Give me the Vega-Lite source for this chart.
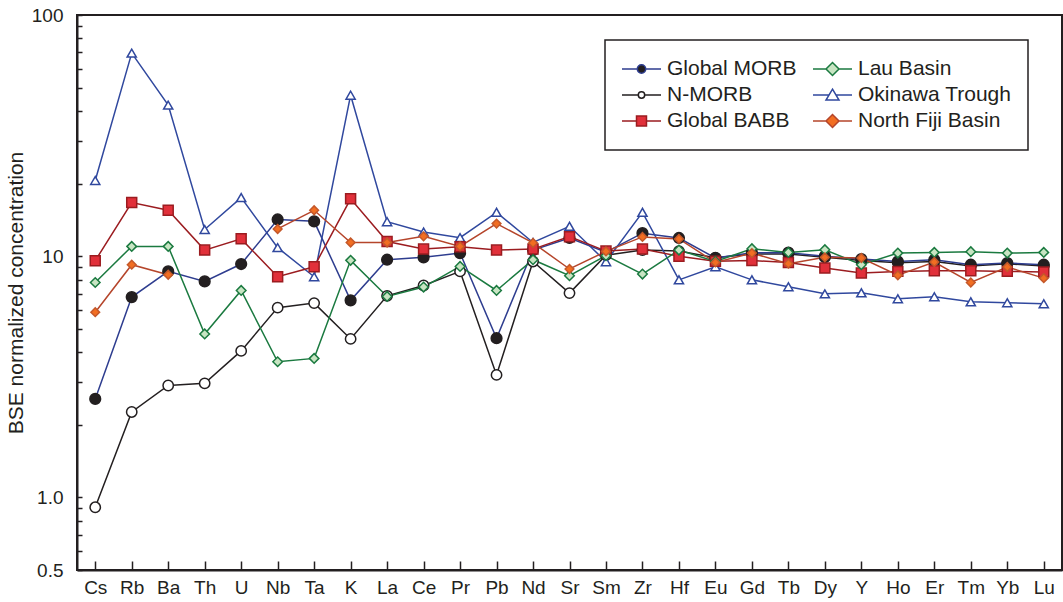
{
  "$schema": "https://vega.github.io/schema/vega-lite/v6.json",
  "width": 985,
  "height": 555,
  "autosize": {"type": "none"},
  "padding": {"left": 77, "top": 15, "right": 1, "bottom": 32},
  "background": "white",
  "data": {
    "values": [
      {"el": "Cs", "N-MORB": 0.91, "Global MORB": 2.56, "Okinawa Trough": 20.6, "Global BABB": 9.58, "Lau Basin": 7.78, "North Fiji Basin": 5.86},
      {"el": "Rb", "N-MORB": 2.26, "Global MORB": 6.77, "Okinawa Trough": 69.5, "Global BABB": 16.7, "Lau Basin": 10.98, "North Fiji Basin": 9.22},
      {"el": "Ba", "N-MORB": 2.91, "Global MORB": 8.65, "Okinawa Trough": 42.3, "Global BABB": 15.5, "Lau Basin": 10.98, "North Fiji Basin": 8.38},
      {"el": "Th", "N-MORB": 2.97, "Global MORB": 7.86, "Okinawa Trough": 12.9, "Global BABB": 10.6, "Lau Basin": 4.76, "North Fiji Basin": null},
      {"el": "U", "N-MORB": 4.05, "Global MORB": 9.28, "Okinawa Trough": 17.5, "Global BABB": 11.8, "Lau Basin": 7.21, "North Fiji Basin": null},
      {"el": "Nb", "N-MORB": 6.12, "Global MORB": 14.2, "Okinawa Trough": 10.85, "Global BABB": 8.22, "Lau Basin": 3.65, "North Fiji Basin": 12.97},
      {"el": "Ta", "N-MORB": 6.39, "Global MORB": 13.95, "Okinawa Trough": 8.22, "Global BABB": 9.04, "Lau Basin": 3.77, "North Fiji Basin": 15.5},
      {"el": "K", "N-MORB": 4.54, "Global MORB": 6.56, "Okinawa Trough": 46.5, "Global BABB": 17.3, "Lau Basin": 9.61, "North Fiji Basin": 11.4},
      {"el": "La", "N-MORB": 6.85, "Global MORB": 9.67, "Okinawa Trough": 13.9, "Global BABB": 11.5, "Lau Basin": 6.81, "North Fiji Basin": 11.4},
      {"el": "Ce", "N-MORB": 7.56, "Global MORB": 9.89, "Okinawa Trough": 12.6, "Global BABB": 10.7, "Lau Basin": 7.45, "North Fiji Basin": 12.09},
      {"el": "Pr", "N-MORB": 8.65, "Global MORB": 10.3, "Okinawa Trough": 11.94, "Global BABB": 10.95, "Lau Basin": 9.07, "North Fiji Basin": 10.98},
      {"el": "Pb", "N-MORB": 3.22, "Global MORB": 4.57, "Okinawa Trough": 15.2, "Global BABB": 10.6, "Lau Basin": 7.21, "North Fiji Basin": 13.65},
      {"el": "Nd", "N-MORB": 9.51, "Global MORB": 10.6, "Okinawa Trough": 11.4, "Global BABB": 10.7, "Lau Basin": 9.67, "North Fiji Basin": 11.35},
      {"el": "Sr", "N-MORB": 7.03, "Global MORB": 11.9, "Okinawa Trough": 13.3, "Global BABB": 12.05, "Lau Basin": 8.3, "North Fiji Basin": 8.85},
      {"el": "Sm", "N-MORB": 10.1, "Global MORB": 10.4, "Okinawa Trough": 9.49, "Global BABB": 10.5, "Lau Basin": 10.05, "North Fiji Basin": 10.47},
      {"el": "Zr", "N-MORB": 10.6, "Global MORB": 12.46, "Okinawa Trough": 15.2, "Global BABB": 10.7, "Lau Basin": 8.43, "North Fiji Basin": 12.02},
      {"el": "Hf", "N-MORB": 10.5, "Global MORB": 11.9, "Okinawa Trough": 7.98, "Global BABB": 10.0, "Lau Basin": 10.6, "North Fiji Basin": 11.79},
      {"el": "Eu", "N-MORB": 9.85, "Global MORB": 9.83, "Okinawa Trough": 9.04, "Global BABB": 9.53, "Lau Basin": 9.51, "North Fiji Basin": 9.42},
      {"el": "Gd", "N-MORB": 10.2, "Global MORB": 10.34, "Okinawa Trough": 7.98, "Global BABB": 9.6, "Lau Basin": 10.74, "North Fiji Basin": 10.3},
      {"el": "Tb", "N-MORB": 10.2, "Global MORB": 10.34, "Okinawa Trough": 7.47, "Global BABB": 9.42, "Lau Basin": 10.37, "North Fiji Basin": 9.31},
      {"el": "Dy", "N-MORB": 9.9, "Global MORB": 10.0, "Okinawa Trough": 6.98, "Global BABB": 8.93, "Lau Basin": 10.64, "North Fiji Basin": 9.89},
      {"el": "Y", "N-MORB": 9.6, "Global MORB": 9.73, "Okinawa Trough": 7.05, "Global BABB": 8.51, "Lau Basin": 9.22, "North Fiji Basin": 9.83},
      {"el": "Ho", "N-MORB": 9.4, "Global MORB": 9.51, "Okinawa Trough": 6.66, "Global BABB": 8.65, "Lau Basin": 10.3, "North Fiji Basin": 8.34},
      {"el": "Er", "N-MORB": 9.5, "Global MORB": 9.67, "Okinawa Trough": 6.79, "Global BABB": 8.7, "Lau Basin": 10.37, "North Fiji Basin": 9.46},
      {"el": "Tm", "N-MORB": 9.1, "Global MORB": 9.22, "Okinawa Trough": 6.47, "Global BABB": 8.7, "Lau Basin": 10.44, "North Fiji Basin": 7.78},
      {"el": "Yb", "N-MORB": 9.3, "Global MORB": 9.37, "Okinawa Trough": 6.41, "Global BABB": 8.65, "Lau Basin": 10.3, "North Fiji Basin": 9.02},
      {"el": "Lu", "N-MORB": 9.1, "Global MORB": 9.22, "Okinawa Trough": 6.35, "Global BABB": 8.6, "Lau Basin": 10.37, "North Fiji Basin": 8.11}
    ]
  },
  "transform": [
    {"fold": ["N-MORB", "Global MORB", "Okinawa Trough", "Global BABB", "Lau Basin", "North Fiji Basin"], "as": ["series", "value"]}
  ],
  "encoding": {
    "x": {
      "field": "el",
      "type": "nominal",
      "scale": {"type": "point", "padding": 0.5, "domain": ["Cs","Rb","Ba","Th","U","Nb","Ta","K","La","Ce","Pr","Pb","Nd","Sr","Sm","Zr","Hf","Eu","Gd","Tb","Dy","Y","Ho","Er","Tm","Yb","Lu"]},
      "axis": {"title": null, "labelAngle": 0, "tickSize": -9, "labelPadding": 17.5, "labelFontSize": 19, "labelColor": "#231f20", "domainColor": "#231f20", "domainWidth": 2, "tickColor": "#231f20", "tickWidth": 1.5, "grid": false}
    },
    "y": {
      "field": "value",
      "type": "quantitative",
      "scale": {"type": "log", "domain": [0.5, 100], "nice": false},
      "axis": {
        "title": "BSE normalized concentration",
        "values": [0.5,0.6,0.7,0.8,0.9,1,2,3,4,5,6,7,8,9,10,20,30,40,50,60,70,80,90,100],
        "labelExpr": "datum.value == 0.5 ? '0.5' : datum.value == 1 ? '1.0' : datum.value == 10 ? '10' : datum.value == 100 ? '100' : ''",
        "tickSize": -5, "labelPadding": 19, "labelFontSize": 19, "labelColor": "#231f20",
        "labelOverlap": false, "labelFlush": false, "labelBound": false,
        "titleFontSize": 21, "titleFontWeight": "normal", "titleColor": "#231f20", "titlePadding": 5,
        "domainColor": "#231f20", "domainWidth": 2, "tickColor": "#231f20", "tickWidth": 1.5, "grid": false
      }
    }
  },
  "layer": [
    {
      "mark": {"type": "line", "strokeWidth": 1.5, "invalid": "break-paths-show-domains"},
      "encoding": {
        "stroke": {"field": "series", "type": "nominal", "legend": null,
          "scale": {"domain": ["Global MORB","N-MORB","Global BABB","Lau Basin","Okinawa Trough","North Fiji Basin"],
                    "range": ["#2e3d8f","#231f20","#9b1c20","#1b7a40","#30489e","#b5452b"]}}
      }
    },
    {
      "mark": {"type": "point", "filled": true, "strokeWidth": 1.5, "opacity": 1},
      "encoding": {
        "shape": {"field": "series", "type": "nominal", "legend": null,
          "scale": {"domain": ["Global MORB","N-MORB","Global BABB","Lau Basin","Okinawa Trough","North Fiji Basin"],
                    "range": ["circle","circle","square","diamond","triangle-up","diamond"]}},
        "fill": {"field": "series", "type": "nominal", "legend": null,
          "scale": {"domain": ["Global MORB","N-MORB","Global BABB","Lau Basin","Okinawa Trough","North Fiji Basin"],
                    "range": ["#231f20","#ffffff","#e1303a","#c8e5c3","#ffffff","#f26e22"]}},
        "stroke": {"field": "series", "type": "nominal", "legend": null,
          "scale": {"domain": ["Global MORB","N-MORB","Global BABB","Lau Basin","Okinawa Trough","North Fiji Basin"],
                    "range": ["#231f20","#231f20","#9b1c20","#1b7a40","#30489e","#c4582a"]}},
        "size": {"field": "series", "type": "nominal", "legend": null,
          "scale": {"domain": ["Global MORB","N-MORB","Global BABB","Lau Basin","Okinawa Trough","North Fiji Basin"],
                    "range": [115,76,150,175,170,175]}}
      }
    },
    {
      "mark": {"type": "point", "filled": true, "opacity": 0, "size": 1521, "strokeWidth": 1.5},
      "encoding": {
        "shape": {"field": "series", "type": "nominal",
          "scale": {"domain": ["Global MORB","N-MORB","Global BABB","Lau Basin","Okinawa Trough","North Fiji Basin"],
                    "range": [
                      "M-1,0H-0.215M0.215,0H1M-0.215,0A0.215,0.215,0,1,1,0.215,0A0.215,0.215,0,1,1,-0.215,0Z",
                      "M-1,0H-0.164M0.164,0H1M-0.164,0A0.164,0.164,0,1,1,0.164,0A0.164,0.164,0,1,1,-0.164,0Z",
                      "M-1,0H-0.256M0.256,0H1M-0.256,-0.256H0.256V0.256H-0.256Z",
                      "M-1,0H-0.333M0.333,0H1M0,-0.333L0.333,0L0,0.333L-0.333,0Z",
                      "M-1,0H-0.178M0.178,0H1M0,-0.3L0.333,0.26L-0.333,0.26Z",
                      "M-1,0H-0.333M0.333,0H1M0,-0.333L0.333,0L0,0.333L-0.333,0Z"
                    ]},
          "legend": {"title": null, "orient": "none", "legendX": 528, "legendY": 25, "columns": 2, "columnPadding": 15, "rowPadding": 0, "clipHeight": 26, "symbolSize": 1521, "symbolStrokeWidth": 1.5, "symbolOpacity": 1, "labelFontSize": 21, "labelFont": "Liberation Sans", "labelColor": "#231f20", "labelOffset": 5, "labelLimit": 300, "padding": 16, "fillColor": "#ffffff", "strokeColor": "#231f20"}},
        "fill": {"field": "series", "type": "nominal",
          "scale": {"domain": ["Global MORB","N-MORB","Global BABB","Lau Basin","Okinawa Trough","North Fiji Basin"],
                    "range": ["#231f20","#ffffff","#e1303a","#c8e5c3","#ffffff","#f26e22"]},
          "legend": {"title": null, "orient": "none", "legendX": 528, "legendY": 25, "columns": 2, "columnPadding": 15, "rowPadding": 0, "clipHeight": 26, "symbolSize": 1521, "symbolStrokeWidth": 1.5, "symbolOpacity": 1, "labelFontSize": 21, "labelFont": "Liberation Sans", "labelColor": "#231f20", "labelOffset": 5, "labelLimit": 300, "padding": 16, "fillColor": "#ffffff", "strokeColor": "#231f20"}},
        "stroke": {"field": "series", "type": "nominal",
          "scale": {"domain": ["Global MORB","N-MORB","Global BABB","Lau Basin","Okinawa Trough","North Fiji Basin"],
                    "range": ["#2e3d8f","#231f20","#9b1c20","#1b7a40","#30489e","#b5452b"]},
          "legend": {"title": null, "orient": "none", "legendX": 528, "legendY": 25, "columns": 2, "columnPadding": 15, "rowPadding": 0, "clipHeight": 26, "symbolSize": 1521, "symbolStrokeWidth": 1.5, "symbolOpacity": 1, "labelFontSize": 21, "labelFont": "Liberation Sans", "labelColor": "#231f20", "labelOffset": 5, "labelLimit": 300, "padding": 16, "fillColor": "#ffffff", "strokeColor": "#231f20"}}
      }
    }
  ],
  "resolve": {"scale": {"shape": "independent", "fill": "independent", "stroke": "independent", "size": "independent"}},
  "config": {
    "font": "Liberation Sans",
    "view": {"stroke": "#231f20", "strokeWidth": 2},
    "legend": {"strokeWidth": 1.5}
  }
}
